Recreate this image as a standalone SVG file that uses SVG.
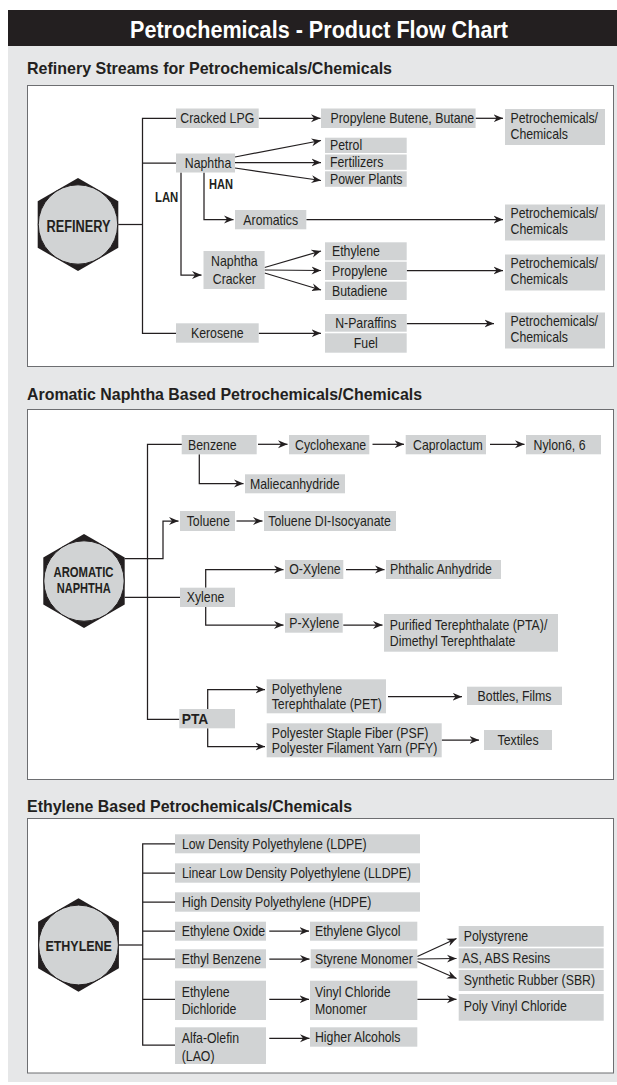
<svg xmlns="http://www.w3.org/2000/svg" width="617" height="1085" viewBox="0 0 617 1085">
<style>
.box{fill:#d1d3d4}
.t{font-family:'Liberation Sans',Arial,Helvetica,sans-serif;font-size:14px;fill:#231f20;transform-box:fill-box;transform:scaleX(0.88)}
.l{transform-origin:0% 50%}
.m{text-anchor:middle;transform-origin:50% 50%}
.b{font-family:'Liberation Sans',Arial,Helvetica,sans-serif;font-weight:bold;fill:#231f20}
.hd{font-size:17px}
.c{fill:none;stroke:#231f20;stroke-width:1.25}
.a{marker-end:url(#ah)}
.hex{fill:#231f20}
.cir{fill:#d1d3d4;stroke:#231f20;stroke-width:1}
.panel{fill:#ffffff;stroke:#6d6e71;stroke-width:1}
</style>
<defs>
<marker id="ah" markerUnits="userSpaceOnUse" markerWidth="10" markerHeight="10" viewBox="0 0 10 10" refX="9.5" refY="5" orient="auto"><path d="M0,1 L9.5,5 L0,9 L3,5 z" fill="#231f20"/></marker>
</defs>

<rect x="0" y="0" width="617" height="1085" fill="#ffffff"/>
<rect x="8" y="46" width="609" height="1036" fill="#e6e7e8"/>
<g id="title">
<rect x="8" y="10" width="609" height="36" fill="#231f20"/>
<text class="b" x="319" y="37.5" font-size="23" text-anchor="middle" style="fill:#ffffff" textLength="378" lengthAdjust="spacingAndGlyphs">Petrochemicals - Product Flow Chart</text>
</g>

<g id="headings">
<text class="b hd" x="27" y="74" textLength="365" lengthAdjust="spacingAndGlyphs">Refinery Streams for Petrochemicals/Chemicals</text>
<text class="b hd" x="27" y="400" textLength="395" lengthAdjust="spacingAndGlyphs">Aromatic Naphtha Based Petrochemicals/Chemicals</text>
<text class="b hd" x="27" y="811.5" textLength="325" lengthAdjust="spacingAndGlyphs">Ethylene Based Petrochemicals/Chemicals</text>
</g>

<g id="panels">
<rect class="panel" x="27.5" y="85.5" width="586" height="281"/>
<rect class="panel" x="27.5" y="409.5" width="586" height="370"/>
<rect class="panel" x="27.5" y="818.5" width="586" height="254.5"/>
</g>

<g id="connectors">
<!-- panel 1 -->
<path class="c" d="M118.3,224.5 H142.5"/>
<path class="c" d="M176,118.3 H142.5 V333.3 H176"/>
<path class="c" d="M142.5,163 H176"/>
<path class="c a" d="M258.7,118.3 H320.5"/>
<path class="c a" d="M475.6,118.3 H503"/>
<path class="c a" d="M235,157 L321,140.5"/>
<path class="c a" d="M235,162.5 L321,162.5"/>
<path class="c a" d="M235,168 L321,180.5"/>
<path class="c a" d="M181,172.5 V275 H201.5"/>
<path class="c a" d="M204,172.5 V219.6 H233.5"/>
<path class="c a" d="M306.3,219.6 H503"/>
<path class="c a" d="M264.6,267.5 L321,251"/>
<path class="c a" d="M264.6,270 L321,270.5"/>
<path class="c a" d="M264.6,273 L321,290"/>
<path class="c a" d="M406.7,270.5 H503"/>
<path class="c a" d="M258.7,333.3 H321"/>
<path class="c a" d="M406.7,323.5 H494"/>
<!-- panel 2 -->
<path class="c" d="M182,444.3 H147.5 V719.3 H179.3"/>
<path class="c a" d="M124.7,558.5 H163 V521 H178.5"/>
<path class="c" d="M124.7,597.3 H180"/>
<path class="c a" d="M258,444.3 H287.5"/>
<path class="c a" d="M372.5,444.3 H404"/>
<path class="c a" d="M490,444.3 H524.5"/>
<path class="c a" d="M199.3,454.3 V483.5 H243.5"/>
<path class="c a" d="M236.5,521 H262.5"/>
<path class="c a" d="M205.7,587.7 V569.5 H283.5"/>
<path class="c a" d="M205.7,607 V625 H283.5"/>
<path class="c a" d="M346,569.5 H384.5"/>
<path class="c a" d="M343.3,625 H382.5"/>
<path class="c a" d="M207.7,709 V689.5 H265"/>
<path class="c a" d="M207.7,728.3 V746.5 H265"/>
<path class="c a" d="M388,696.7 H462"/>
<path class="c a" d="M441.7,740 H479"/>
<!-- panel 3 -->
<path class="c" d="M118.9,945 H142.7"/>
<path class="c" d="M175,843.8 H142.7 V1045 H175"/>
<path class="c" d="M142.7,873 H175"/>
<path class="c" d="M142.7,902 H175"/>
<path class="c" d="M142.7,931 H175"/>
<path class="c" d="M142.7,959 H175"/>
<path class="c" d="M142.7,999.3 H175"/>
<path class="c a" d="M269.3,931 H309"/>
<path class="c a" d="M269.3,959 H309.5"/>
<path class="c a" d="M417.3,956.5 L456.5,938.5"/>
<path class="c a" d="M417.3,959 L456.5,958.5"/>
<path class="c a" d="M417.3,961.5 L456.5,978.5"/>
<path class="c a" d="M269.3,999.3 H309"/>
<path class="c a" d="M417.3,999.3 H456.5"/>
<path class="c a" d="M269.3,1038.3 H309.5"/>
</g>

<!-- Panel 1 nodes -->
<g id="refinery">
<polygon class="hex" points="78,178 118.3,201.25 118.3,247.75 78,271 37.7,247.75 37.7,201.25"/>
<circle class="cir" cx="78" cy="224.5" r="39.7"/>
<text class="b" x="78.5" y="231.5" font-size="16" text-anchor="middle" textLength="64" lengthAdjust="spacingAndGlyphs">REFINERY</text>
</g>
<g id="cracked-lpg"><rect class="box" x="176" y="108.5" width="82.7" height="19.5"/><text class="t m" x="217.3" y="123">Cracked LPG</text></g>
<g id="propylene-butene"><rect class="box" x="321" y="108.5" width="154.6" height="19.5"/><text class="t l" x="330.5" y="123">Propylene Butene, Butane</text></g>
<g id="petrochem-1"><rect class="box" x="505" y="109" width="100" height="36"/><text class="t l" x="510.5" y="123">Petrochemicals/</text><text class="t l" x="510.5" y="139">Chemicals</text></g>
<g id="naphtha"><rect class="box" x="176" y="153.5" width="59" height="19"/><text class="t m" x="208" y="168">Naphtha</text></g>
<g id="petrol"><rect class="box" x="325" y="137.7" width="81.7" height="15.3"/><text class="t l" x="330" y="150">Petrol</text></g>
<g id="fertilizers"><rect class="box" x="325" y="154.5" width="81.7" height="15.3"/><text class="t l" x="330" y="166.8">Fertilizers</text></g>
<g id="power-plants"><rect class="box" x="325" y="171.3" width="81.7" height="15.5"/><text class="t l" x="330" y="183.8">Power Plants</text></g>
<g id="han-label"><text class="b" x="209" y="189.3" font-size="14" textLength="24" lengthAdjust="spacingAndGlyphs">HAN</text></g>
<g id="lan-label"><text class="b" x="155" y="202.3" font-size="14" textLength="23.3" lengthAdjust="spacingAndGlyphs">LAN</text></g>
<g id="aromatics"><rect class="box" x="235" y="210" width="71.3" height="19.3"/><text class="t m" x="270.7" y="224.6">Aromatics</text></g>
<g id="petrochem-2"><rect class="box" x="505" y="204.5" width="100" height="36"/><text class="t l" x="510.5" y="218.5">Petrochemicals/</text><text class="t l" x="510.5" y="234.5">Chemicals</text></g>
<g id="naphtha-cracker"><rect class="box" x="203.5" y="251" width="61.1" height="38"/><text class="t m" x="234.3" y="266.5">Naphtha</text><text class="t m" x="234.3" y="284.5">Cracker</text></g>
<g id="ethylene-1"><rect class="box" x="325" y="242.3" width="81.7" height="18"/><text class="t l" x="332" y="256.3">Ethylene</text></g>
<g id="propylene-1"><rect class="box" x="325" y="261.7" width="81.7" height="18.3"/><text class="t l" x="332" y="275.8">Propylene</text></g>
<g id="butadiene"><rect class="box" x="325" y="281.7" width="81.7" height="18.3"/><text class="t l" x="332" y="295.8">Butadiene</text></g>
<g id="petrochem-3"><rect class="box" x="505" y="254.5" width="100" height="36"/><text class="t l" x="510.5" y="268.5">Petrochemicals/</text><text class="t l" x="510.5" y="284.5">Chemicals</text></g>
<g id="kerosene"><rect class="box" x="176" y="323.3" width="82.7" height="19.4"/><text class="t m" x="217.3" y="338">Kerosene</text></g>
<g id="n-paraffins"><rect class="box" x="325" y="314" width="81.7" height="17.7"/><text class="t m" x="365.8" y="327.8">N-Paraffins</text></g>
<g id="fuel"><rect class="box" x="325" y="333.3" width="81.7" height="19.4"/><text class="t m" x="365.8" y="348">Fuel</text></g>
<g id="petrochem-4"><rect class="box" x="505" y="312.5" width="100" height="36"/><text class="t l" x="510.5" y="326.5">Petrochemicals/</text><text class="t l" x="510.5" y="342.5">Chemicals</text></g>

<!-- Panel 2 nodes -->
<g id="aromatic-naphtha">
<polygon class="hex" points="84,534 124.7,557.5 124.7,604.5 84,628 43.3,604.5 43.3,557.5"/>
<circle class="cir" cx="84" cy="581" r="40.2"/>
<text class="b" x="83.5" y="576.7" font-size="14" text-anchor="middle" textLength="60" lengthAdjust="spacingAndGlyphs">AROMATIC</text>
<text class="b" x="83.7" y="593.3" font-size="14" text-anchor="middle" textLength="54" lengthAdjust="spacingAndGlyphs">NAPHTHA</text>
</g>
<g id="benzene"><rect class="box" x="181.7" y="435" width="75" height="19.3"/><text class="t l" x="188" y="449.7">Benzene</text></g>
<g id="cyclohexane"><rect class="box" x="289" y="435" width="80.3" height="19.3"/><text class="t l" x="295" y="449.7">Cyclohexane</text></g>
<g id="caprolactum"><rect class="box" x="405.7" y="435" width="80.3" height="19.3"/><text class="t l" x="413" y="449.7">Caprolactum</text></g>
<g id="nylon"><rect class="box" x="526" y="435" width="75" height="19.3"/><text class="t l" x="533.5" y="449.7">Nylon6, 6</text></g>
<g id="maliecanhydride"><rect class="box" x="245" y="474.3" width="100" height="19"/><text class="t l" x="250" y="488.8">Maliecanhydride</text></g>
<g id="toluene"><rect class="box" x="180" y="511" width="55" height="20"/><text class="t l" x="186.7" y="526">Toluene</text></g>
<g id="tdi"><rect class="box" x="264" y="511" width="132" height="20"/><text class="t l" x="268.3" y="526">Toluene DI-Isocyanate</text></g>
<g id="xylene"><rect class="box" x="180" y="587.7" width="55" height="19.3"/><text class="t l" x="186.7" y="602.3">Xylene</text></g>
<g id="o-xylene"><rect class="box" x="285" y="560" width="58.3" height="19"/><text class="t l" x="289.3" y="574.5">O-Xylene</text></g>
<g id="phthalic"><rect class="box" x="386" y="560" width="115" height="19"/><text class="t l" x="390" y="574.5">Phthalic Anhydride</text></g>
<g id="p-xylene"><rect class="box" x="285" y="613.3" width="57.7" height="19.4"/><text class="t l" x="289.3" y="628">P-Xylene</text></g>
<g id="pta-dmt"><rect class="box" x="384" y="614" width="174" height="37.7"/><text class="t l" x="389.8" y="630">Purified Terephthalate (PTA)/</text><text class="t l" x="389.8" y="646.5">Dimethyl Terephthalate</text></g>
<g id="pta"><rect class="box" x="179.3" y="709" width="55.7" height="19.3"/><text class="b" x="181.7" y="724" font-size="14" textLength="26.6" lengthAdjust="spacingAndGlyphs">PTA</text></g>
<g id="pet"><rect class="box" x="266.7" y="679.3" width="119.3" height="34"/><text class="t l" x="271.7" y="694.3">Polyethylene</text><text class="t l" x="271.7" y="709">Terephthalate (PET)</text></g>
<g id="bottles"><rect class="box" x="467" y="686.7" width="95" height="18.3"/><text class="t m" x="514.5" y="700.8">Bottles, Films</text></g>
<g id="psf-pfy"><rect class="box" x="266.7" y="723.3" width="175" height="34"/><text class="t l" x="271.7" y="738.3">Polyester Staple Fiber (PSF)</text><text class="t l" x="271.7" y="753.3">Polyester Filament Yarn (PFY)</text></g>
<g id="textiles"><rect class="box" x="484" y="730" width="68" height="20"/><text class="t m" x="518" y="745">Textiles</text></g>

<!-- Panel 3 nodes -->
<g id="ethylene">
<polygon class="hex" points="78.5,898.3 118.9,921.65 118.9,968.35 78.5,991.7 38.1,968.35 38.1,921.65"/>
<circle class="cir" cx="78.5" cy="945" r="39.9"/>
<text class="b" x="78.7" y="950.7" font-size="15" text-anchor="middle" textLength="66.5" lengthAdjust="spacingAndGlyphs">ETHYLENE</text>
</g>
<g id="ldpe"><rect class="box" x="175" y="834.3" width="245" height="19"/><text class="t l" x="181.9" y="848.8">Low Density Polyethylene (LDPE)</text></g>
<g id="lldpe"><rect class="box" x="175" y="863.3" width="245" height="19.4"/><text class="t l" x="181.9" y="878">Linear Low Density Polyethylene (LLDPE)</text></g>
<g id="hdpe"><rect class="box" x="175" y="892.3" width="245" height="19.4"/><text class="t l" x="181.9" y="907">High Density Polyethylene (HDPE)</text></g>
<g id="ethylene-oxide"><rect class="box" x="175" y="921.7" width="91" height="19"/><text class="t l" x="181.7" y="936.2">Ethylene Oxide</text></g>
<g id="ethylene-glycol"><rect class="box" x="310" y="921.7" width="107.3" height="19"/><text class="t l" x="315" y="936.2">Ethylene Glycol</text></g>
<g id="ethyl-benzene"><rect class="box" x="175" y="949.3" width="91" height="19"/><text class="t l" x="181.7" y="963.8">Ethyl Benzene</text></g>
<g id="styrene-monomer"><rect class="box" x="310.7" y="949.3" width="106.6" height="19"/><text class="t l" x="315" y="963.8">Styrene Monomer</text></g>
<g id="polystyrene"><rect class="box" x="458.7" y="926" width="145" height="20.7"/><text class="t l" x="463.8" y="941.4">Polystyrene</text></g>
<g id="abs"><rect class="box" x="458.7" y="948.3" width="145" height="20"/><text class="t l" x="462" y="963.3">AS, ABS Resins</text></g>
<g id="sbr"><rect class="box" x="458.7" y="970" width="145" height="21"/><text class="t l" x="463.8" y="985.5">Synthetic Rubber (SBR)</text></g>
<g id="pvc"><rect class="box" x="458.7" y="994" width="145" height="26.7"/><text class="t l" x="463.8" y="1011.5">Poly Vinyl Chloride</text></g>
<g id="edc"><rect class="box" x="175" y="980.7" width="91" height="39.3"/><text class="t l" x="181.7" y="996.7">Ethylene</text><text class="t l" x="181.7" y="1014.3">Dichloride</text></g>
<g id="vcm"><rect class="box" x="310" y="980.7" width="107.3" height="39.3"/><text class="t l" x="315" y="996.7">Vinyl Chloride</text><text class="t l" x="315" y="1014.3">Monomer</text></g>
<g id="lao"><rect class="box" x="175" y="1027.3" width="91" height="36.7"/><text class="t l" x="181.7" y="1043.3">Alfa-Olefin</text><text class="t l" x="181.7" y="1061">(LAO)</text></g>
<g id="higher-alcohols"><rect class="box" x="310" y="1027.3" width="107.3" height="19.4"/><text class="t l" x="315" y="1042">Higher Alcohols</text></g>
</svg>
